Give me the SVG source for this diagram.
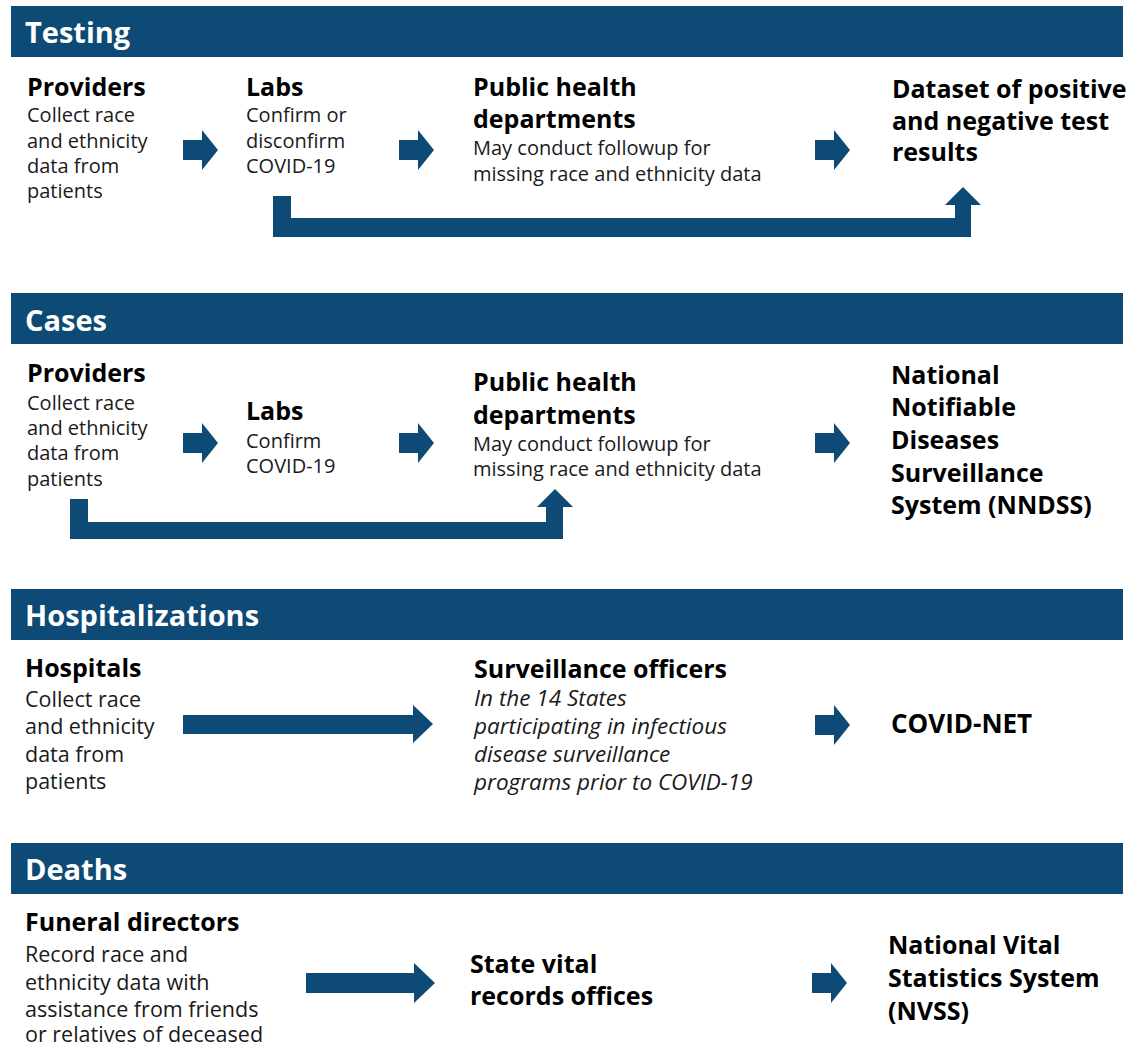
<svg xmlns="http://www.w3.org/2000/svg" width="1133" height="1046" viewBox="0 0 1133 1046">
<defs>
<style>
.bar{fill:#0d4a75}
.ht{font-family:"Open Sans","Noto Sans",sans-serif;font-weight:700;font-size:29px;fill:#fff}
.t{font-family:"Open Sans","Noto Sans",sans-serif;font-weight:700;font-size:25px;fill:#000}
.b{font-family:"Open Sans","Noto Sans",sans-serif;font-size:20px;fill:#1a1a1a}
.bl{font-size:21.5px}
.i{font-style:italic;font-size:22.5px}
.a{fill:#0d4a75}
</style>
<path id="sa" d="M0,-10 H19 V-20 L35,0 L19,20 V10 H0 Z"/>
</defs>
<rect width="1133" height="1046" fill="#fff"/>

<g id="testing-header"><rect class="bar" x="11" y="6" width="1112" height="51"/><text class="ht" x="25" y="43">Testing</text></g>
<g id="cases-header"><rect class="bar" x="11" y="293" width="1112" height="51"/><text class="ht" x="25" y="331">Cases</text></g>
<g id="hosp-header"><rect class="bar" x="11" y="589" width="1112" height="51"/><text class="ht" x="25" y="626">Hospitalizations</text></g>
<g id="deaths-header"><rect class="bar" x="11" y="843" width="1112" height="51"/><text class="ht" x="25" y="880">Deaths</text></g>

<g id="t-providers"><text class="t" x="27" y="96">Providers</text>
<text class="b" x="27" y="122">Collect race</text><text class="b" x="27" y="148">and ethnicity</text><text class="b" x="27" y="173">data from</text><text class="b" x="27" y="198">patients</text></g>
<g id="t-labs"><text class="t" x="246" y="96">Labs</text>
<text class="b" x="246" y="122">Confirm or</text><text class="b" x="246" y="148">disconfirm</text><text class="b" x="246" y="173">COVID-19</text></g>
<g id="t-phd"><text class="t" x="473" y="96">Public health</text><text class="t" x="473" y="128">departments</text>
<text class="b" x="473" y="155">May conduct followup for</text><text class="b" x="473" y="181">missing race and ethnicity data</text></g>
<g id="t-dataset"><text class="t" x="892" y="98">Dataset of positive</text><text class="t" x="892" y="130">and negative test</text><text class="t" x="892" y="161">results</text></g>

<g id="c-providers"><text class="t" x="27" y="382">Providers</text>
<text class="b" x="27" y="410">Collect race</text><text class="b" x="27" y="435">and ethnicity</text><text class="b" x="27" y="460">data from</text><text class="b" x="27" y="486">patients</text></g>
<g id="c-labs"><text class="t" x="246" y="420">Labs</text>
<text class="b" x="246" y="448">Confirm</text><text class="b" x="246" y="473">COVID-19</text></g>
<g id="c-phd"><text class="t" x="473" y="391">Public health</text><text class="t" x="473" y="424">departments</text>
<text class="b" x="473" y="451">May conduct followup for</text><text class="b" x="473" y="476">missing race and ethnicity data</text></g>
<g id="c-nndss"><text class="t" x="891" y="384">National</text><text class="t" x="891" y="416">Notifiable</text><text class="t" x="891" y="449">Diseases</text><text class="t" x="891" y="482">Surveillance</text><text class="t" x="891" y="514">System (NNDSS)</text></g>

<g id="h-hospitals"><text class="t" x="25" y="677">Hospitals</text>
<text class="b bl" x="25" y="707">Collect race</text><text class="b bl" x="25" y="734">and ethnicity</text><text class="b bl" x="25" y="762">data from</text><text class="b bl" x="25" y="789">patients</text></g>
<g id="h-officers"><text class="t" x="474" y="678">Surveillance officers</text>
<text class="b i" x="474" y="706">In the 14 States</text><text class="b i" x="474" y="734">participating in infectious</text><text class="b i" x="474" y="762">disease surveillance</text><text class="b i" x="474" y="790">programs prior to COVID-19</text></g>
<g id="h-covidnet"><text class="t" x="891" y="733" style="font-size:26px">COVID-NET</text></g>

<g id="d-funeral"><text class="t" x="25" y="931">Funeral directors</text>
<text class="b bl" x="25" y="962">Record race and</text><text class="b bl" x="25" y="990">ethnicity data with</text><text class="b bl" x="25" y="1017">assistance from friends</text><text class="b bl" x="25" y="1042">or relatives of deceased</text></g>
<g id="d-state"><text class="t" x="470" y="973">State vital</text><text class="t" x="470" y="1005">records offices</text></g>
<g id="d-nvss"><text class="t" x="888" y="954">National Vital</text><text class="t" x="888" y="987">Statistics System</text><text class="t" x="888" y="1020">(NVSS)</text></g>

<g id="connectors" class="a">
<use href="#sa" x="183" y="150"/>
<use href="#sa" x="399" y="150"/>
<use href="#sa" x="815" y="150"/>
<path d="M273,196 H291 V218 H955 V205 H945 L963,187 L981,205 H971 V237 H273 Z"/>
<use href="#sa" x="183" y="443"/>
<use href="#sa" x="399" y="443"/>
<use href="#sa" x="815" y="443"/>
<path d="M70,499 H88 V522 H546 V507 H537 L555,489 L573,507 H563 V539 H70 Z"/>
<path d="M183,715 H413 V705 L433,724 L413,743 V734 H183 Z"/>
<use href="#sa" x="815" y="725"/>
<path d="M306,973 H414 V963 L435,983 L414,1003 V993 H306 Z"/>
<use href="#sa" x="812" y="983"/>
</g>
</svg>
